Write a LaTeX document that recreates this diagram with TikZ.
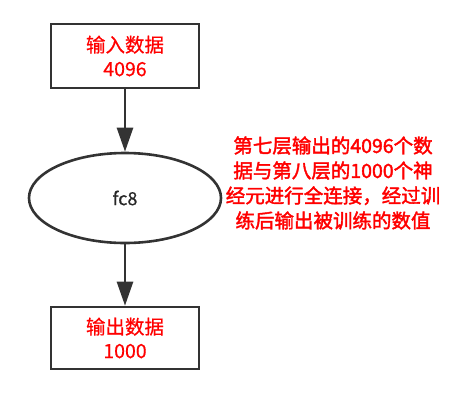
\documentclass[tikz,border=0pt]{standalone}
\usepackage{fontspec}
\setmainfont{Noto Sans CJK SC}
\newfontfamily\cjk[FakeBold=0.6]{Noto Sans CJK SC}
\newfontfamily\cjkb[FakeBold=2]{Noto Sans CJK SC}
\usetikzlibrary{arrows.meta,shapes.geometric}
\definecolor{lnc}{HTML}{333333}
\tikzset{
  databox/.style={draw=lnc, line width=2.6pt, minimum width=148pt, minimum height=64pt, inner sep=0pt, align=center, text=red, font=\cjk\fontsize{19.5}{24}\selectfont},
  layer/.style={draw=lnc, line width=2.6pt, ellipse, minimum width=192pt, minimum height=90pt, inner sep=0pt, font=\cjk\fontsize{18}{22}\selectfont, text=black!85},
  flow/.style={draw=lnc, line width=2.6pt, -{Triangle[length=24pt 0,width=16pt 0]}},
  note/.style={text=red, align=center, font=\cjkb\fontsize{19.5}{25}\selectfont, inner sep=0pt}
}
\begin{document}
\begin{tikzpicture}[x=1pt,y=-1pt]
\useasboundingbox (0,0) rectangle (471,402);
\node[databox] (in) at (125,56) {输入数据\\4096};
\node[layer] (fc) at (125,198) {fc8};
\node[databox, minimum height=62pt] (out) at (125,338) {输出数据\\1000};
\node[note] (txt) at (333,183) {第七层输出的4096个数\\据与第八层的1000个神\\经元进行全连接，经过训\\练后输出被训练的数值};
\draw[flow] (in) -- (fc);
\draw[flow] (fc) -- (out);
\end{tikzpicture}
\end{document}
